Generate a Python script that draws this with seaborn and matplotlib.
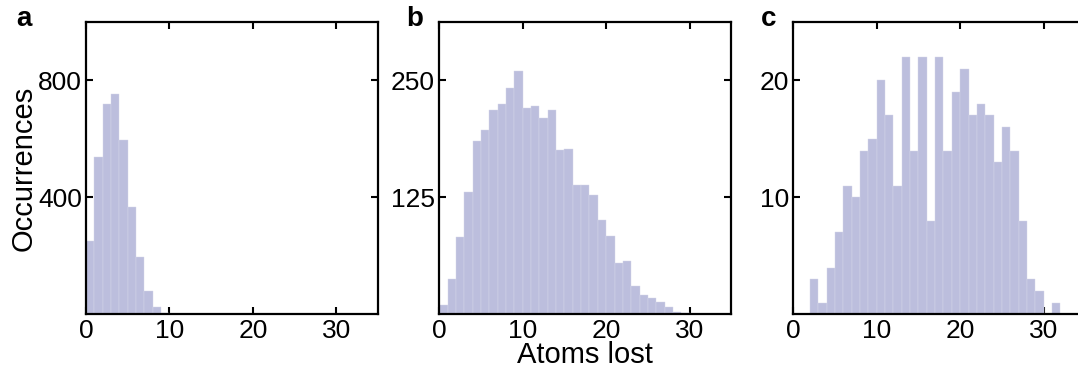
import numpy as np
import pandas as pd
import matplotlib
matplotlib.use("Agg")
import matplotlib.pyplot as plt
import seaborn as sns

# DATA: counts per 1-atom bin, starting at 0 atoms lost
counts_a = [252, 537, 720, 752, 597, 366, 195, 81, 25, 4]
counts_b = [10, 38, 83, 131, 185, 197, 218, 225, 242, 260, 220, 223, 210, 218,
            176, 177, 138, 138, 128, 101, 84, 55, 57, 30, 21, 17, 13, 8, 3, 1]
counts_c = [0, 0, 3, 1, 4, 7, 11, 10, 14, 15, 20, 17, 11, 22, 14, 22, 8, 22,
            14, 19, 21, 17, 18, 17, 13, 16, 14, 8, 3, 2, 0, 1]

panel_letters = ["a", "b", "c"]
y_limits = [1000, 312.5, 25]
y_ticks = [[400, 800], [125, 250], [10, 20]]
x_ticks = [0, 10, 20, 30]

BAR_COLOR = "#bcbedd"

sns.set_style("ticks")
plt.rcParams["font.family"] = ["Liberation Sans", "DejaVu Sans"]
plt.rcParams.update({
    "text.color": "black",
    "axes.labelcolor": "black",
    "axes.edgecolor": "black",
    "xtick.color": "black",
    "ytick.color": "black",
})

fig = plt.figure(figsize=(10.78, 3.69), dpi=100)

# axes positions (figure fractions); panel c runs past the right edge
lefts = [0.0798, 0.4075, 0.7359]
letter_x = [16 / 1078, 406 / 1078, 761 / 1078]
width = 0.2709
bottom = 0.148
height = 0.793

for i, counts in enumerate([counts_a, counts_b, counts_c]):
    ax = fig.add_axes([lefts[i], bottom, width, height])
    nbins = len(counts)
    df = pd.DataFrame({"atoms": np.arange(nbins) + 0.5, "n": counts})
    sns.histplot(
        data=df,
        x="atoms",
        weights="n",
        binwidth=1,
        binrange=(0, nbins),
        color=BAR_COLOR,
        edgecolor="#d6d7ea",
        linewidth=0.3,
        alpha=1,
        ax=ax
    )
    ax.set_xlim(0, 35)
    ax.set_ylim(0, y_limits[i])
    ax.set_xticks(x_ticks)
    ax.set_yticks(y_ticks[i])
    ax.tick_params(direction="in", length=5, width=1.5, labelsize=19,
                   top=True, right=True, pad=3)
    for sp in ax.spines.values():
        sp.set_linewidth(1.6)
        sp.set_visible(True)
    ax.set_ylabel("")
    ax.set_xlabel("")
    fig.text(letter_x[i], 0.985, panel_letters[i], fontsize=20,
             fontweight="bold", va="top", ha="left")
    if i == 0:
        ax.set_ylabel("Occurrences", fontsize=21, labelpad=0)
    if i == 1:
        ax.set_xlabel("Atoms lost", fontsize=21, labelpad=-1)

plt.savefig("out.png", dpi=100)
